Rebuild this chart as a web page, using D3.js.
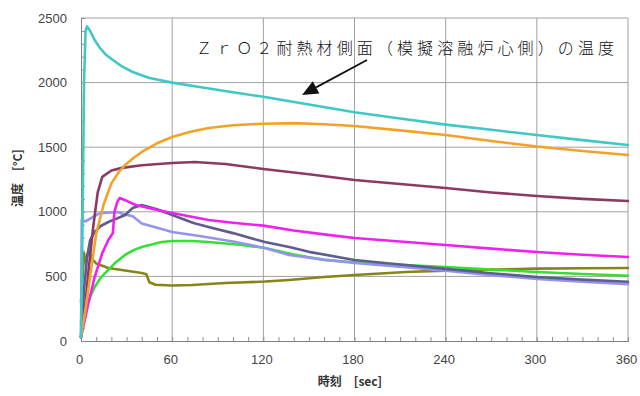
<!DOCTYPE html>
<html><head><meta charset="utf-8">
<script src="https://cdn.jsdelivr.net/npm/d3@7"></script>
<style>
body{margin:0;background:#fff;}
svg{display:block;}
</style></head>
<body><svg id="c" width="640" height="396"></svg>
<script>
// ---- data: [time (sec), temperature (°C)] ----
const xTicks = [0, 60, 120, 180, 240, 300, 360];
const yTicks = [0, 500, 1000, 1500, 2000, 2500];
const annotationText = "ＺｒＯ２耐熱材側面（模擬溶融炉心側）の温度";
const xLabel = "時刻　[sec]";
const yLabel = "温度　[°C]";

const teal = [[0,30],[1,900],[2,2000],[3,2400],[4,2435],[6,2400],[9,2330],[12.5,2268],[16,2220],[21,2175],[27,2125],[34,2082],[45,2035],[60,2000],[78,1966],[100,1925],[120,1890],[150,1830],[180,1770],[210,1722],[240,1675],[270,1635],[300,1594],[330,1555],[360,1517]];
const orange = [[0,30],[3,250],[6,500],[10,830],[15,1060],[20,1220],[25,1310],[29,1362],[35,1420],[40,1463],[50,1530],[60,1579],[72,1620],[84,1648],[100,1670],[120,1682],[140,1686],[160,1678],[180,1664],[210,1630],[240,1594],[270,1548],[300,1505],[330,1470],[360,1440]];
const maroon = [[0,30],[3,300],[5,550],[8,880],[11,1150],[14,1270],[20,1320],[27,1340],[40,1360],[60,1378],[75,1385],[95,1370],[120,1331],[150,1290],[180,1246],[210,1215],[240,1184],[270,1150],[300,1122],[330,1100],[360,1084]];
const magenta = [[0,30],[5,300],[9,495],[14,680],[18,782],[21,836],[22,1000],[24,1080],[25.5,1107],[30,1085],[36,1053],[48,1020],[60,990],[84,936],[100,915],[120,893],[140,855],[160,825],[180,797],[210,770],[240,743],[270,715],[300,689],[330,668],[360,650]];
const slate = [[0,30],[2,400],[4,650],[6,780],[9,844],[13,890],[18,921],[24,950],[29,975],[34,1029],[40,1053],[50,1020],[60,975],[74,913],[84,882],[100,835],[121,766],[137,728],[150,690],[180,627],[210,592],[240,558],[270,525],[300,495],[330,475],[360,458]];
const lavender = [[0,30],[0.5,940],[3,925],[8,960],[12.5,990],[24,998],[29,980],[34,965],[40,910],[46,890],[60,844],[78,813],[100,770],[121,720],[137,666],[160,630],[180,604],[210,575],[240,545],[270,510],[300,480],[330,458],[360,440]];
const green = [[0,150],[3,250],[6,340],[9,418],[13,490],[18,550],[23,610],[29,666],[35,705],[40,728],[53,766],[60,774],[73,774],[84,766],[106,743],[121,720],[140,670],[160,627],[180,610],[210,590],[240,573],[270,553],[300,534],[330,518],[360,505]];
const olive = [[0,300],[2,680],[3,610],[5,700],[7,640],[10,600],[18,565],[29,545],[40,526],[43,516],[45,455],[49,435],[60,430],[73,433],[95,449],[121,460],[137,472],[160,495],[180,511],[214,534],[240,545],[270,553],[300,560],[330,563],[360,565]];

const seriesList = [
  {name:"olive", data:olive, color:"#85851a"},
  {name:"green", data:green, color:"#33e033"},
  {name:"lavender", data:lavender, color:"#9494ee"},
  {name:"slate", data:slate, color:"#5e5e8e"},
  {name:"magenta", data:magenta, color:"#ee22ee"},
  {name:"maroon", data:maroon, color:"#8c3a64"},
  {name:"orange", data:orange, color:"#f2a326"},
  {name:"teal", data:teal, color:"#40c8c4"}
];

const svg = d3.select("#c");
const margin = {left:81, right:12, top:18, bottom:55};
const W = 640, H = 396;
const x = d3.scaleLinear().domain([0,360]).range([margin.left, W - margin.right]);
const y = d3.scaleLinear().domain([0,2500]).range([H - margin.bottom, margin.top]);

// gridlines
const grid = svg.append("g");
grid.selectAll("line.v").data(xTicks.slice(1)).join("line")
  .attr("x1", d=>x(d)).attr("x2", d=>x(d)).attr("y1", y(0)).attr("y2", y(2500))
  .attr("stroke", "#a0a0a0").attr("stroke-width", 1);
grid.selectAll("line.h").data(yTicks.slice(1)).join("line")
  .attr("x1", x(0)).attr("x2", x(360)).attr("y1", d=>y(d)).attr("y2", d=>y(d))
  .attr("stroke", "#a0a0a0").attr("stroke-width", 1);

// minor ticks
const xAxisMinor = d3.axisBottom(x).tickValues(d3.range(0,361,10)).tickSize(-4).tickFormat("");
svg.append("g").attr("transform", `translate(0,${y(0)})`).call(xAxisMinor)
  .call(g=>{g.select(".domain").attr("stroke","#808080"); g.selectAll(".tick line").attr("stroke","#909090");});
const yAxisMinor = d3.axisLeft(y).tickValues(d3.range(0,2501,100)).tickSize(-4).tickFormat("");
svg.append("g").attr("transform", `translate(${x(0)},0)`).call(yAxisMinor)
  .call(g=>{g.select(".domain").attr("stroke","#808080"); g.selectAll(".tick line").attr("stroke","#909090");});

// tick labels
const xAxis = d3.axisBottom(x).tickValues(xTicks).tickSize(0).tickPadding(14).tickFormat(d3.format("d"));
svg.append("g").attr("transform", `translate(0,${y(0)})`).call(xAxis)
  .call(g=>{g.select(".domain").remove(); g.selectAll("text").attr("font-family","Liberation Sans, Arial, sans-serif").attr("font-size",13).attr("fill","#444").attr("dx",-2);});
const yAxis = d3.axisLeft(y).tickValues(yTicks).tickSize(0).tickPadding(14).tickFormat(d3.format("d"));
svg.append("g").attr("transform", `translate(${x(0)},0)`).call(yAxis)
  .call(g=>{g.select(".domain").remove(); g.selectAll("text").attr("font-family","Liberation Sans, Arial, sans-serif").attr("font-size",13).attr("fill","#444");});

// lines
const line = d3.line().x(d=>x(d[0])).y(d=>y(d[1]));
svg.append("g").selectAll("path").data(seriesList).join("path")
  .attr("d", d=>line(d.data)).attr("fill","none").attr("stroke", d=>d.color)
  .attr("stroke-width", 2.6).attr("stroke-linejoin","round").attr("stroke-linecap","round");

// axis labels
svg.append("text").attr("x", 350).attr("y", 386).attr("text-anchor","middle")
  .attr("font-family","Noto Sans CJK JP, sans-serif").attr("font-size",12).attr("font-weight","bold").attr("fill","#333")
  .text(xLabel);
svg.append("text").attr("transform","translate(22,178) rotate(-90)").attr("text-anchor","middle")
  .attr("font-family","Noto Sans CJK JP, sans-serif").attr("font-size",12).attr("font-weight","bold").attr("fill","#333")
  .text(yLabel);

// annotation
svg.append("text").attr("x", 196).attr("y", 54)
  .attr("font-family","Noto Sans CJK JP, sans-serif").attr("font-size",16).attr("font-weight",300).attr("fill","#111")
  .attr("textLength", 418).attr("lengthAdjust","spacing")
  .text(annotationText);
const ax1 = 367, ay1 = 60, ax2 = 302, ay2 = 95;
const ang = Math.atan2(ay2-ay1, ax2-ax1);
const hl = 16, hw = 7;
const bx = ax2 - hl*Math.cos(ang), by = ay2 - hl*Math.sin(ang);
svg.append("line").attr("x1",ax1).attr("y1",ay1).attr("x2",bx).attr("y2",by).attr("stroke","#111").attr("stroke-width",1.8);
svg.append("path").attr("d", `M${ax2},${ay2}L${bx - hw*Math.sin(ang)},${by + hw*Math.cos(ang)}L${bx + hw*Math.sin(ang)},${by - hw*Math.cos(ang)}Z`).attr("fill","#111");
</script></body></html>
